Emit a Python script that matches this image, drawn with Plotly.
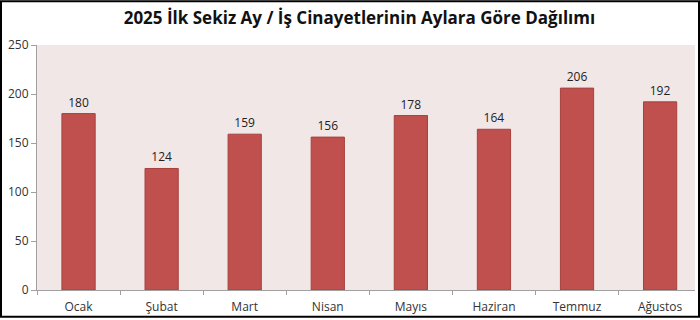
import plotly.graph_objects as go

months = ["Ocak", "Şubat", "Mart", "Nisan", "Mayıs", "Haziran", "Temmuz", "Ağustos"]
values = [180, 124, 159, 156, 178, 164, 206, 192]
title = "2025 İlk Sekiz Ay / İş Cinayetlerinin Aylara Göre Dağılımı"

W, H = 700, 320
L, R, T, B = 37, 5, 45, 28
pw, ph = W - L - R, H - T - B
FONT = "Open Sans, Liberation Sans, sans-serif"

fig = go.Figure(go.Bar(
    x=months, y=values, width=0.4,
    marker=dict(color="#C0504D", line=dict(color="#A8403D", width=1)),
    text=[str(v) for v in values], textposition="outside",
    textfont=dict(family=FONT, size=12, color="#222"),
    cliponaxis=False,
))

fig.update_layout(
    width=W, height=H, margin=dict(l=L, r=R, t=T, b=B),
    paper_bgcolor="white", plot_bgcolor="#F2E7E7",
    showlegend=False,
    title=dict(text="<b>" + title + "</b>", x=0.49, xref="paper", xanchor="center",
               y=1 - 18 / H, yanchor="middle", yref="container",
               font=dict(family=FONT, size=17, color="#111")),
    xaxis=dict(range=[-0.5, 7.42], showline=True, linecolor="#A0A0A0", linewidth=1,
               ticks="outside", tickson="boundaries", ticklen=4, tickcolor="#A0A0A0",
               ticklabelstandoff=6,
               tickfont=dict(family=FONT, size=12, color="#333"),
               showgrid=False, fixedrange=True),
    yaxis=dict(range=[0, 250], dtick=50, showline=True, linecolor="#A0A0A0", linewidth=1,
               ticks="outside", ticklen=5, tickcolor="#A0A0A0", showgrid=False, zeroline=False,
               tickfont=dict(family=FONT, size=12, color="#333")),
    bargap=0.6,
    shapes=[dict(type="rect", xref="paper", yref="paper",
                 x0=-(L - 1) / pw, x1=1 + (R - 1) / pw,
                 y0=-(B - 1) / ph, y1=1 + (T - 1) / ph,
                 line=dict(color="black", width=2), fillcolor="rgba(0,0,0,0)", layer="above")],
)

fig.write_html("out.html")
